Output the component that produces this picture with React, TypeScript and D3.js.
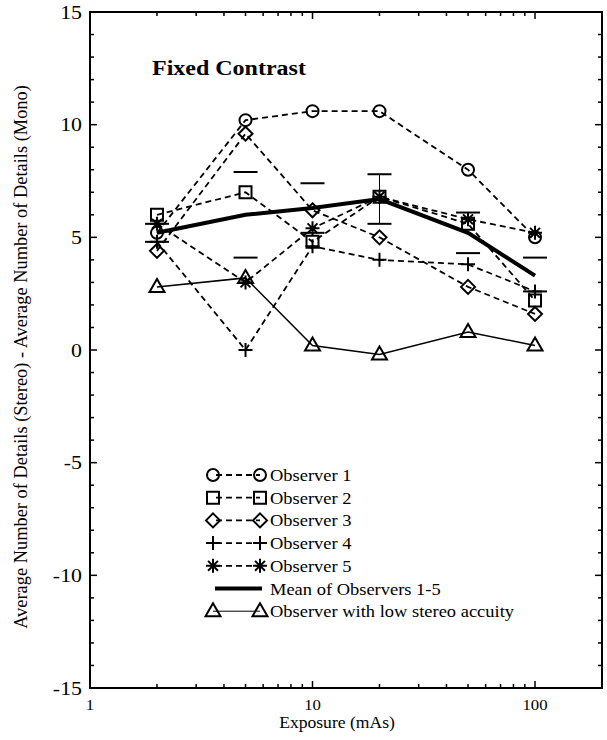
import React from "react";
import * as d3 from "d3";

// Exposure levels (mAs)
const exposures = [2, 5, 10, 20, 50, 100];

// Difference in detected details (stereo - mono) per observer
const observer1 = [5.2, 10.2, 10.6, 10.6, 8.0, 5.0];
const observer2 = [6.0, 7.0, 4.8, 6.8, 5.6, 2.2];
const observer3 = [4.4, 9.6, 6.2, 5.0, 2.8, 1.6];
const observer4 = [4.8, 0.0, 4.6, 4.0, 3.8, 2.6];
const observer5 = [5.6, 3.0, 5.4, 6.8, 5.8, 5.2];
const meanObservers = [5.2, 6.0, 6.3, 6.7, 5.2, 3.3];
const meanUpper = [5.6, 7.9, 7.4, 7.8, 6.1, 4.1];
const meanLower = [4.8, 4.1, 5.2, 5.6, 4.3, 2.6];
const lowAcuity = [2.8, 3.2, 0.2, -0.2, 0.8, 0.2];

const yTickLabels = [15, 10, 5, 0, -5, -10, -15];
const xTickLabels = [1, 10, 100];

const legendLabels = [
  "Observer 1",
  "Observer 2",
  "Observer 3",
  "Observer 4",
  "Observer 5",
  "Mean of Observers 1-5",
  "Observer with low stereo accuity",
];

const W = 607;
const H = 740;
const M = { left: 90, right: 602, top: 12, bottom: 688 };
const FONT = '"Liberation Serif", "DejaVu Serif", serif';

type Shape = "circle" | "square" | "diamond" | "plus" | "star" | "triangle";

function markerPath(shape: Shape, cx: number, cy: number): string {
  const p = d3.path();
  if (shape === "circle") {
    p.moveTo(cx + 6, cy);
    p.arc(cx, cy, 6, 0, Math.PI * 2);
  } else if (shape === "square") {
    p.rect(cx - 6, cy - 6, 12, 12);
  } else if (shape === "diamond") {
    p.moveTo(cx, cy - 7);
    p.lineTo(cx + 7, cy);
    p.lineTo(cx, cy + 7);
    p.lineTo(cx - 7, cy);
    p.closePath();
  } else if (shape === "plus") {
    p.moveTo(cx - 7, cy);
    p.lineTo(cx + 7, cy);
    p.moveTo(cx, cy - 7);
    p.lineTo(cx, cy + 7);
  } else if (shape === "star") {
    for (let k = 0; k < 4; k++) {
      const a = (k * Math.PI) / 4;
      const dx = Math.cos(a) * 7;
      const dy = Math.sin(a) * 7;
      p.moveTo(cx - dx, cy - dy);
      p.lineTo(cx + dx, cy + dy);
    }
  } else {
    p.moveTo(cx, cy - 8);
    p.lineTo(cx + 7.5, cy + 5);
    p.lineTo(cx - 7.5, cy + 5);
    p.closePath();
  }
  return p.toString();
}

// Text with a slight horizontal widening, anchored at (x, y)
function SText(props: {
  x: number;
  y: number;
  size: number;
  sx?: number;
  anchor?: "start" | "middle" | "end";
  bold?: boolean;
  children: React.ReactNode;
}) {
  const { x, y, size, sx = 1.12, anchor = "start", bold = false, children } = props;
  return (
    <text
      transform={`translate(${x},${y}) scale(${sx},1)`}
      fontSize={size}
      textAnchor={anchor}
      fontWeight={bold ? "bold" : "normal"}
      fill="#000"
      style={{ fontFamily: FONT }}
    >
      {children}
    </text>
  );
}

export default function App() {
  const x = d3.scaleLog().domain([1, 200]).range([M.left, M.right]);
  const y = d3.scaleLinear().domain([-15, 15]).range([M.bottom, M.top]);

  const line = d3
    .line<number>()
    .x((_, i) => x(exposures[i]))
    .y((d) => y(d));

  const series: { values: number[]; shape: Shape }[] = [
    { values: observer1, shape: "circle" },
    { values: observer2, shape: "square" },
    { values: observer3, shape: "diamond" },
    { values: observer4, shape: "plus" },
    { values: observer5, shape: "star" },
  ];

  const yMinor = d3.range(-15, 16, 1);
  const xMinor: number[] = [];
  [1, 10, 100].forEach((dec) => {
    for (let k = 2; k <= 9; k++) {
      const v = dec * k;
      if (v <= 200) xMinor.push(v);
    }
  });

  const legendX1 = 213;
  const legendX2 = 260;
  const legendY0 = 475;
  const legendStep = 22.7;

  return (
    <svg
      width={W}
      height={H}
      style={{ position: "absolute", left: 0, top: 0, background: "#fff" }}
    >
      <rect x={0} y={0} width={W} height={H} fill="#fff" />

      {/* minor and major ticks on all four sides */}
      <g stroke="#000" strokeWidth={1.5}>
        {yMinor.map((v) => {
          const major = v % 5 === 0;
          const len = major ? 7 : 4;
          return (
            <g key={"y" + v}>
              <line x1={M.left} x2={M.left + len} y1={y(v)} y2={y(v)} />
              <line x1={M.right} x2={M.right - len} y1={y(v)} y2={y(v)} />
            </g>
          );
        })}
        {xMinor.concat(xTickLabels).map((v) => {
          const major = xTickLabels.includes(v);
          const len = major ? 7 : 4;
          return (
            <g key={"x" + v}>
              <line x1={x(v)} x2={x(v)} y1={M.bottom} y2={M.bottom - len} />
              <line x1={x(v)} x2={x(v)} y1={M.top} y2={M.top + len} />
            </g>
          );
        })}
      </g>

      <rect
        x={M.left}
        y={M.top}
        width={M.right - M.left}
        height={M.bottom - M.top}
        fill="none"
        stroke="#000"
        strokeWidth={2}
      />

      {/* tick labels */}
      {yTickLabels.map((v) => (
        <SText key={"yl" + v} x={M.left - 8} y={y(v) + 6.5} size={19} sx={1.15} anchor="end">
          {v}
        </SText>
      ))}
      {xTickLabels.map((v) => (
        <SText key={"xl" + v} x={x(v)} y={710} size={15.5} sx={1.08} anchor="middle">
          {v}
        </SText>
      ))}

      <SText x={337} y={728} size={16} sx={1.1} anchor="middle">
        Exposure (mAs)
      </SText>
      <text
        transform={`translate(27, 357) rotate(-90)`}
        fontSize={18.4}
        textAnchor="middle"
        fill="#000"
        style={{ fontFamily: FONT }}
      >
        Average Number of Details (Stereo) - Average Number of Details (Mono)
      </text>

      <SText x={152} y={75} size={20} sx={1.2} bold>
        Fixed Contrast
      </SText>

      {/* low stereo acuity observer */}
      <path d={line(lowAcuity) ?? ""} fill="none" stroke="#000" strokeWidth={1.5} />
      {lowAcuity.map((v, i) => (
        <path
          key={"t" + i}
          d={markerPath("triangle", x(exposures[i]), y(v))}
          fill="none"
          stroke="#000"
          strokeWidth={2}
        />
      ))}

      {/* individual observers */}
      {series.map((s, si) => (
        <g key={"s" + si}>
          <path
            d={line(s.values) ?? ""}
            fill="none"
            stroke="#000"
            strokeWidth={1.8}
            strokeDasharray="6,4"
          />
          {s.values.map((v, i) => (
            <path
              key={i}
              d={markerPath(s.shape, x(exposures[i]), y(v))}
              fill="none"
              stroke="#000"
              strokeWidth={2}
            />
          ))}
        </g>
      ))}

      {/* mean with standard error caps */}
      <path d={line(meanObservers) ?? ""} fill="none" stroke="#000" strokeWidth={4} />
      <g stroke="#000">
        {exposures.map((e, i) => (
          <g key={"e" + i}>
            {e === 20 && (
              <line
                x1={x(e)}
                x2={x(e)}
                y1={y(meanUpper[i])}
                y2={y(meanLower[i])}
                strokeWidth={1}
              />
            )}
            <line
              x1={x(e) - 12}
              x2={x(e) + 12}
              y1={y(meanUpper[i])}
              y2={y(meanUpper[i])}
              strokeWidth={2}
            />
            <line
              x1={x(e) - 12}
              x2={x(e) + 12}
              y1={y(meanLower[i])}
              y2={y(meanLower[i])}
              strokeWidth={2}
            />
          </g>
        ))}
      </g>

      {/* legend */}
      <g>
        {legendLabels.map((label, i) => {
          const ly = legendY0 + i * legendStep;
          let sym: React.ReactNode = null;
          if (i < 5) {
            const shape = series[i].shape;
            sym = (
              <g stroke="#000" fill="none">
                <line
                  x1={legendX1}
                  x2={legendX2}
                  y1={ly}
                  y2={ly}
                  strokeWidth={1.8}
                  strokeDasharray="6,4"
                  strokeDashoffset={-3}
                />
                <path d={markerPath(shape, legendX1, ly)} strokeWidth={2} />
                <path d={markerPath(shape, legendX2, ly)} strokeWidth={2} />
              </g>
            );
          } else if (i === 5) {
            sym = (
              <line
                x1={legendX1 + 2}
                x2={legendX2 + 2}
                y1={ly}
                y2={ly}
                stroke="#000"
                strokeWidth={4}
              />
            );
          } else {
            sym = (
              <g stroke="#000" fill="none">
                <line x1={legendX1} x2={legendX2} y1={ly} y2={ly} strokeWidth={1} />
                <path d={markerPath("triangle", legendX1, ly)} strokeWidth={2} />
                <path d={markerPath("triangle", legendX2, ly)} strokeWidth={2} />
              </g>
            );
          }
          return (
            <g key={label}>
              {sym}
              <SText x={270} y={ly + 6} size={16.5} sx={1.12}>
                {label}
              </SText>
            </g>
          );
        })}
      </g>
    </svg>
  );
}
